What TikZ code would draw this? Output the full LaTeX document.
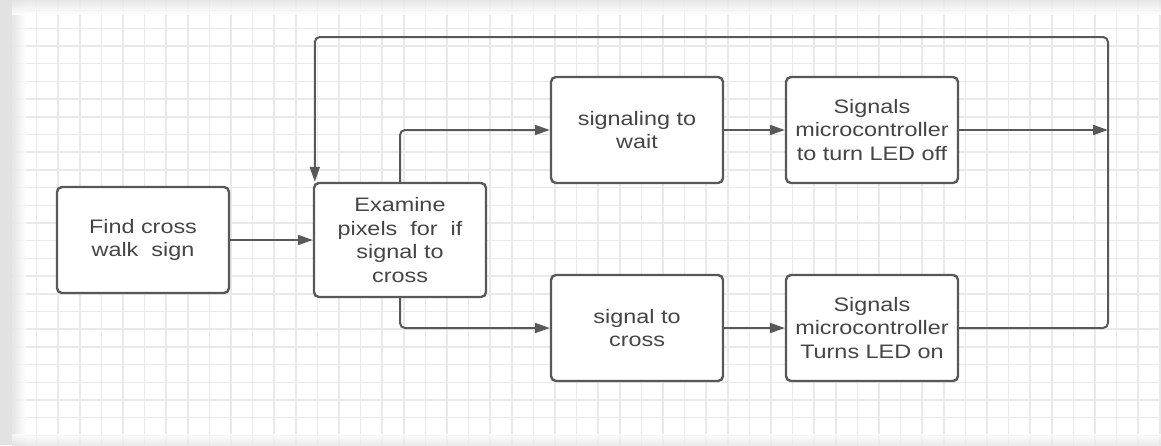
\documentclass[tikz,border=0pt]{standalone}
\usepackage{fontspec}
\setmainfont{Liberation Sans}[FakeStretch=1.2]
\usetikzlibrary{arrows.meta,calc}
\definecolor{gridc}{HTML}{E9E9E9}
\definecolor{edgec}{HTML}{E2E2E2}
\definecolor{linec}{HTML}{585858}
\definecolor{textc}{HTML}{454545}
\tikzset{
  stepbox/.style={draw=linec, line width=2.4pt, rounded corners=5pt, fill=white,
    minimum width=172pt, minimum height=106pt, align=center, text=textc,
    font=\fontsize{19.5}{23.5}\selectfont, inner sep=2pt},
  flow/.style={draw=linec, line width=2pt, rounded corners=5pt,
    -{Triangle[length=15pt,width=10pt]}}
}
\begin{document}
\begin{tikzpicture}[x=1pt,y=-1pt]
  \useasboundingbox (0,0) rectangle (1161,445);
  \fill[white] (0,0) rectangle (1161,445);
  % background grid
  \foreach \i in {0,...,53} {
    \draw[gridc, line width=1.5pt] (15+21.6*\i,0) -- (15+21.6*\i,445);
  }
  \foreach \j in {0,...,24} {
    \draw[gridc, line width=1.5pt] (0,10.6+17.7*\j) -- (1161,10.6+17.7*\j);
  }
  % soft grey edges of the sheet
  \fill[edgec] (0,0) rectangle (12,445);
  \shade[left color=edgec, right color=white, opacity=0.85] (12,0) rectangle (26,445);
  \shade[top color=edgec, bottom color=white, opacity=0.8] (12,0) rectangle (1161,14);
  \shade[top color=white, bottom color=edgec, opacity=0.7] (12,434) rectangle (1161,445);
  % process steps
  \node[stepbox] (find) at (143,240) {Find cross\\walk\ \ sign};
  \node[stepbox, minimum height=114pt] (exam) at (400,240) {Examine\\pixels\ \ for\ \ if\\signal to\\cross};
  \node[stepbox] (wait) at (637,130) {signaling to\\wait};
  \node[stepbox] (off) at (872,130) {Signals\\microcontroller\\to turn LED off};
  \node[stepbox] (cross) at (637,328) {signal to\\cross};
  \node[stepbox] (on) at (872,328) {Signals\\microcontroller\\Turns LED on};
  % join points of the feedback loop
  \coordinate (merge) at (1108,130);
  \coordinate (loop) at (1108,37);
  \coordinate (entry) at ($(exam.north west)+(2,0)$);
  % connectors
  \draw[flow] (find) -- (exam);
  \draw[flow] (exam.north) |- (wait.west);
  \draw[flow] (exam.south) |- (cross.west);
  \draw[flow] (wait) -- (off);
  \draw[flow] (cross) -- (on);
  \draw[flow, rounded corners=0pt] (off.east) -- (merge);
  \draw[flow] (on.east) -| (loop) -| (entry);
\end{tikzpicture}
\end{document}
